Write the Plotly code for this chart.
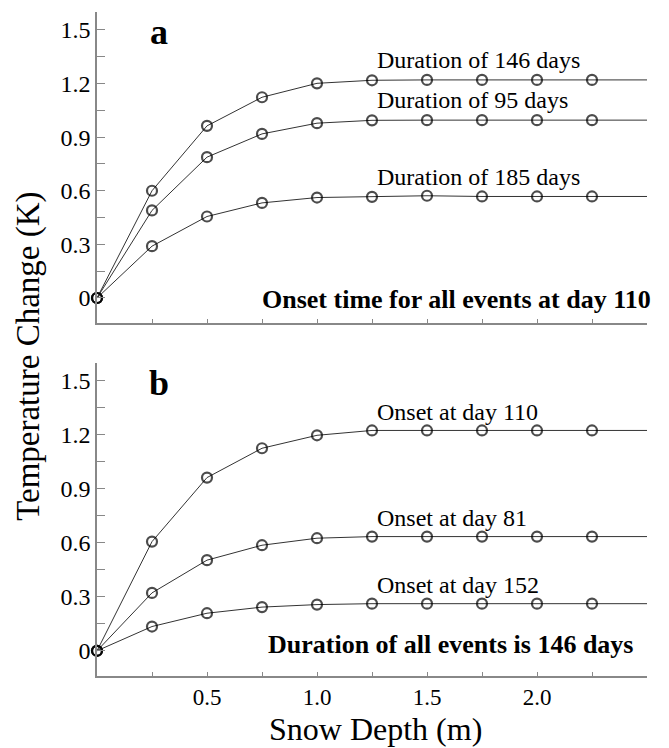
import plotly.graph_objects as go
from plotly.subplots import make_subplots

depth = [0, 0.25, 0.5, 0.75, 1.0, 1.25, 1.5, 1.75, 2.0, 2.25, 2.5]

# Panel a: onset at day 110, varying duration
dur146 = [0, 0.60, 0.963, 1.123, 1.201, 1.218, 1.22, 1.22, 1.22, 1.22, 1.22]
dur95 = [0, 0.49, 0.788, 0.918, 0.978, 0.994, 0.995, 0.995, 0.995, 0.995, 0.995]
dur185 = [0, 0.29, 0.456, 0.532, 0.562, 0.566, 0.572, 0.568, 0.568, 0.568, 0.568]
labels_a = ["Duration of 146 days", "Duration of 95 days", "Duration of 185 days"]
label_y_a = [1.33, 1.105, 0.675]

# Panel b: duration 146 days, varying onset
on110 = [0, 0.607, 0.963, 1.126, 1.198, 1.225, 1.225, 1.225, 1.225, 1.225, 1.225]
on81 = [0, 0.322, 0.504, 0.587, 0.626, 0.635, 0.635, 0.635, 0.635, 0.635, 0.635]
on152 = [0, 0.135, 0.209, 0.243, 0.257, 0.262, 0.262, 0.262, 0.262, 0.262, 0.262]
labels_b = ["Onset at day 110", "Onset at day 81", "Onset at day 152"]
label_y_b = [1.33, 0.74, 0.365]

ytick_vals = [0, 0.3, 0.6, 0.9, 1.2, 1.5]
ytick_text = ["0", "0.3", "0.6", "0.9", "1.2", "1.5"]
xtick_vals = [0.25, 0.5, 0.75, 1.0, 1.25, 1.5, 1.75, 2.0, 2.25]
xtick_text = ["", "0.5", "", "1.0", "", "1.5", "", "2.0", ""]

SERIF = "'Liberation Serif', 'Times New Roman', serif"

fig = make_subplots(rows=2, cols=1)
fig.update_layout(
    yaxis=dict(domain=[0.5316, 1.0]),
    yaxis2=dict(domain=[0.0, 0.4714]),
)

msize = [10] * (len(depth) - 1) + [0]

def add_series(ys, row):
    fig.add_trace(go.Scatter(
        x=depth, y=ys, mode="lines+markers",
        line=dict(color="#333333", width=1),
        marker=dict(symbol="circle-open", size=msize, color="black",
                    line=dict(width=2.2, color="black")),
        showlegend=False, cliponaxis=False,
    ), row=row, col=1)

for s in (dur146, dur95, dur185):
    add_series(s, 1)
for s in (on110, on81, on152):
    add_series(s, 2)

for txt, yv in zip(labels_a, label_y_a):
    fig.add_annotation(x=1.262, y=yv, xref="x", yref="y", text=txt,
                       showarrow=False, xanchor="left", yanchor="middle",
                       font=dict(family=SERIF, size=24, color="black"))
for txt, yv in zip(labels_b, label_y_b):
    fig.add_annotation(x=1.262, y=yv, xref="x2", yref="y2", text=txt,
                       showarrow=False, xanchor="left", yanchor="middle",
                       font=dict(family=SERIF, size=24, color="black"))

fig.add_annotation(x=1.011, y=-0.01, xref="x domain", yref="y",
                   text="<b>Onset time for all events at day 110</b>",
                   showarrow=False, xanchor="right", yanchor="middle",
                   font=dict(family=SERIF, size=26, color="black"))
fig.add_annotation(x=0.978, y=0.035, xref="x2 domain", yref="y2",
                   text="<b>Duration of all events is 146 days</b>",
                   showarrow=False, xanchor="right", yanchor="middle",
                   font=dict(family=SERIF, size=26, color="black"))

fig.add_annotation(x=0.28, y=1.49, xref="x", yref="y", text="<b>a</b>",
                   showarrow=False, xanchor="center", yanchor="middle",
                   font=dict(family=SERIF, size=36, color="black"))
fig.add_annotation(x=0.28, y=1.49, xref="x2", yref="y2", text="<b>b</b>",
                   showarrow=False, xanchor="center", yanchor="middle",
                   font=dict(family=SERIF, size=36, color="black"))

fig.add_annotation(x=-0.125, y=0.481, xref="paper", yref="paper",
                   text="Temperature Change (K)", textangle=-90,
                   showarrow=False, xanchor="center", yanchor="middle",
                   font=dict(family=SERIF, size=33, color="black"))
fig.add_annotation(x=0.507, y=-0.08, xref="paper", yref="paper",
                   text="Snow Depth (m)",
                   showarrow=False, xanchor="center", yanchor="middle",
                   font=dict(family=SERIF, size=32, color="black"))

axis_common = dict(showline=True, linecolor="#888888", linewidth=1.5,
                   showgrid=False, zeroline=False, mirror=False,
                   automargin=False)

for r in (1, 2):
    fig.update_yaxes(range=[-0.14, 1.6], tickvals=ytick_vals, ticktext=ytick_text,
                     ticks="inside", ticklen=8, tickcolor="#888888",
                     minor=dict(tickvals=[0.15, 0.45, 0.75, 1.05, 1.35],
                                ticks="inside", ticklen=8, tickcolor="#888888"),
                     tickfont=dict(family=SERIF, size=24, color="black"),
                     row=r, col=1, **axis_common)
    fig.update_xaxes(range=[0, 2.5], tickvals=xtick_vals,
                     ticktext=xtick_text if r == 2 else [""] * len(xtick_vals),
                     ticks="inside", ticklen=4, tickcolor="#888888",
                     tickfont=dict(family=SERIF, size=23, color="black"),
                     row=r, col=1, **axis_common)

# The page body adds an 8px offset, so the figure is sized to fit the window.
fig.update_layout(
    width=661, height=740,
    margin=dict(l=89, r=22, t=4, b=72),
    paper_bgcolor="white", plot_bgcolor="white",
)

fig.write_html("out.html")
